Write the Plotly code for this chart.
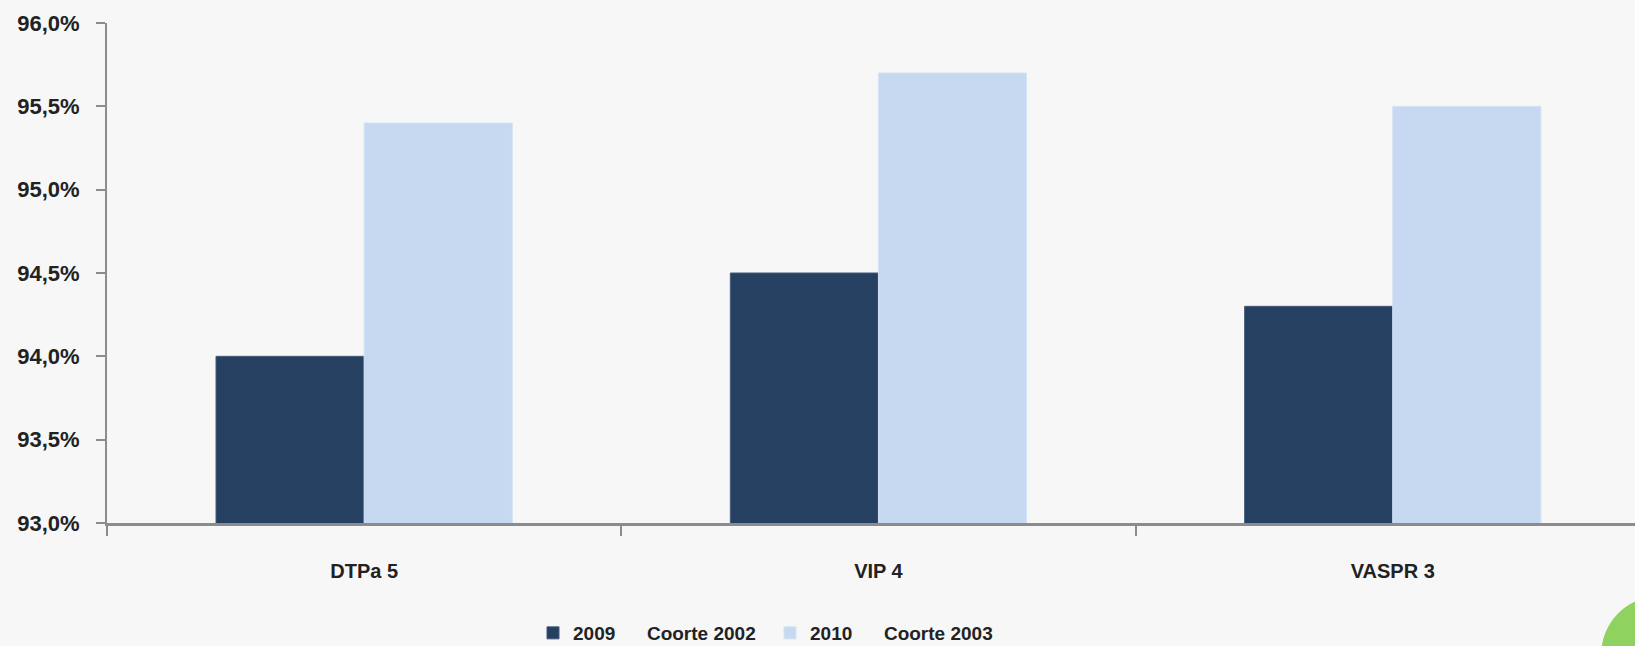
import plotly.graph_objects as go

categories = ["DTPa 5", "VIP 4", "VASPR 3"]
series_2009 = [94.0, 94.5, 94.3]
series_2010 = [95.4, 95.7, 95.5]
name_2009 = "2009\u00a0\u00a0\u00a0\u00a0\u00a0\u00a0Coorte 2002"
name_2010 = "2010\u00a0\u00a0\u00a0\u00a0\u00a0\u00a0Coorte 2003"
y_ticks = [93.0, 93.5, 94.0, 94.5, 95.0, 95.5, 96.0]
y_tick_labels = ["93,0%", "93,5%", "94,0%", "94,5%", "95,0%", "95,5%", "96,0%"]

W, H = 1635, 646
L, R, T, B = 107, 0, 23, 123
pw = W - L - R
ph = H - T - B
cat_px = 514.3

def px_x(p):
    return (p - L) / pw

def px_y(p):
    return (H - B - p) / ph

fig = go.Figure()
fig.add_trace(go.Bar(x=categories, y=series_2009, name=name_2009,
                     marker=dict(color="#264061", line=dict(width=1, color="#45597a"))))
fig.add_trace(go.Bar(x=categories, y=series_2010, name=name_2010,
                     marker=dict(color="#c6d9f0", line=dict(width=1, color="#d3e2f4"))))

font_family = "Liberation Sans, Arial, sans-serif"
txt_color = "#222222"

fig.update_layout(
    width=W, height=H,
    margin=dict(l=L, r=R, t=T, b=B, pad=0, autoexpand=False),
    paper_bgcolor="#f7f7f7", plot_bgcolor="#f7f7f7",
    barmode="group", bargap=0.424, bargroupgap=0,
    font=dict(family=font_family, size=20, color=txt_color, weight="bold"),
    showlegend=True,
    legend=dict(orientation="h", x=px_x(533), xanchor="left", y=px_y(614), yanchor="top",
                font=dict(size=19, color=txt_color, weight="bold"), bgcolor="rgba(0,0,0,0)",
                itemwidth=30, entrywidth=192, entrywidthmode="pixels",
                traceorder="normal", itemclick=False),
    xaxis=dict(type="category", range=[-0.5, -0.5 + pw / cat_px],
               showline=True, linecolor="#8c8c8c", linewidth=3,
               ticks="outside", tickson="boundaries", ticklen=10, tickwidth=2, tickcolor="#8c8c8c",
               ticklabelstandoff=28, showgrid=False, zeroline=False,
               tickfont=dict(size=20, weight="bold")),
    yaxis=dict(range=[93, 96], tickvals=y_ticks, ticktext=y_tick_labels,
               showline=True, linecolor="#8c8c8c", linewidth=2,
               ticks="outside", ticklen=9, tickwidth=2, tickcolor="#8c8c8c",
               ticklabelstandoff=12, showgrid=False, zeroline=False,
               tickfont=dict(size=22, weight="bold")),
    shapes=[dict(type="circle", xref="paper", yref="paper",
                 x0=px_x(1601), x1=px_x(1719), y0=px_y(596), y1=px_y(714),
                 fillcolor="#8fd260", line=dict(width=0), layer="above")],
)

fig.write_html("out.html")
